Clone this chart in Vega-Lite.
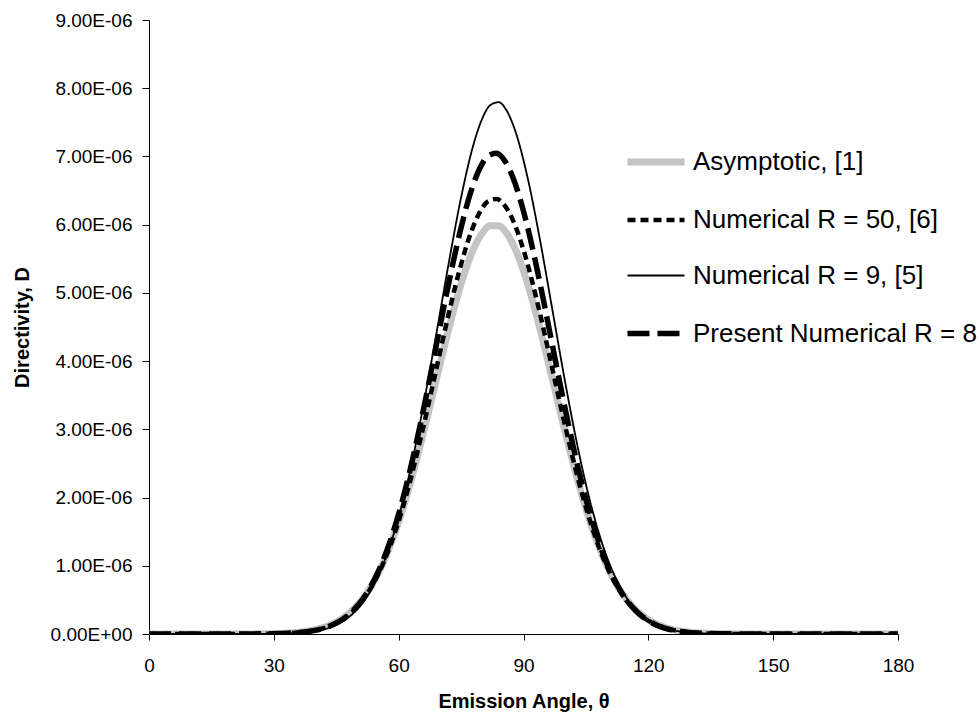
{
  "$schema": "https://vega.github.io/schema/vega-lite/v6.json",
  "autosize": {"type": "none"},
  "width": 749,
  "height": 614,
  "padding": {"left": 149, "top": 20, "right": 80, "bottom": 86},
  "background": "white",
  "config": {"font": "Liberation Sans", "view": {"stroke": null}},
  "data": {"values": [
    {"t": 0, "D": 0, "s": "Asymptotic, [1]"},
    {"t": 20, "D": 0, "s": "Asymptotic, [1]"},
    {"t": 30, "D": 6e-9, "s": "Asymptotic, [1]"},
    {"t": 35, "D": 2.1e-8, "s": "Asymptotic, [1]"},
    {"t": 40, "D": 6.5e-8, "s": "Asymptotic, [1]"},
    {"t": 44, "D": 1.46e-7, "s": "Asymptotic, [1]"},
    {"t": 48, "D": 3.0e-7, "s": "Asymptotic, [1]"},
    {"t": 52, "D": 5.72e-7, "s": "Asymptotic, [1]"},
    {"t": 56, "D": 1.009e-6, "s": "Asymptotic, [1]"},
    {"t": 60, "D": 1.646e-6, "s": "Asymptotic, [1]"},
    {"t": 63, "D": 2.257e-6, "s": "Asymptotic, [1]"},
    {"t": 66, "D": 2.96e-6, "s": "Asymptotic, [1]"},
    {"t": 69, "D": 3.716e-6, "s": "Asymptotic, [1]"},
    {"t": 72, "D": 4.463e-6, "s": "Asymptotic, [1]"},
    {"t": 75, "D": 5.131e-6, "s": "Asymptotic, [1]"},
    {"t": 78, "D": 5.644e-6, "s": "Asymptotic, [1]"},
    {"t": 80, "D": 5.869e-6, "s": "Asymptotic, [1]"},
    {"t": 82, "D": 5.985e-6, "s": "Asymptotic, [1]"},
    {"t": 84, "D": 5.985e-6, "s": "Asymptotic, [1]"},
    {"t": 86, "D": 5.869e-6, "s": "Asymptotic, [1]"},
    {"t": 88, "D": 5.644e-6, "s": "Asymptotic, [1]"},
    {"t": 91, "D": 5.131e-6, "s": "Asymptotic, [1]"},
    {"t": 94, "D": 4.463e-6, "s": "Asymptotic, [1]"},
    {"t": 97, "D": 3.716e-6, "s": "Asymptotic, [1]"},
    {"t": 100, "D": 2.96e-6, "s": "Asymptotic, [1]"},
    {"t": 103, "D": 2.257e-6, "s": "Asymptotic, [1]"},
    {"t": 106, "D": 1.646e-6, "s": "Asymptotic, [1]"},
    {"t": 110, "D": 1.009e-6, "s": "Asymptotic, [1]"},
    {"t": 114, "D": 5.72e-7, "s": "Asymptotic, [1]"},
    {"t": 118, "D": 3.0e-7, "s": "Asymptotic, [1]"},
    {"t": 122, "D": 1.46e-7, "s": "Asymptotic, [1]"},
    {"t": 126, "D": 6.5e-8, "s": "Asymptotic, [1]"},
    {"t": 130, "D": 2.7e-8, "s": "Asymptotic, [1]"},
    {"t": 135, "D": 8e-9, "s": "Asymptotic, [1]"},
    {"t": 140, "D": 2e-9, "s": "Asymptotic, [1]"},
    {"t": 150, "D": 0, "s": "Asymptotic, [1]"},
    {"t": 180, "D": 0, "s": "Asymptotic, [1]"},

    {"t": 0, "D": 0, "s": "Numerical R = 50, [6]"},
    {"t": 20, "D": 0, "s": "Numerical R = 50, [6]"},
    {"t": 29.5, "D": 4e-9, "s": "Numerical R = 50, [6]"},
    {"t": 34.5, "D": 1.6e-8, "s": "Numerical R = 50, [6]"},
    {"t": 39.5, "D": 5.1e-8, "s": "Numerical R = 50, [6]"},
    {"t": 43.5, "D": 1.19e-7, "s": "Numerical R = 50, [6]"},
    {"t": 47.5, "D": 2.56e-7, "s": "Numerical R = 50, [6]"},
    {"t": 51.5, "D": 5.08e-7, "s": "Numerical R = 50, [6]"},
    {"t": 55.5, "D": 9.27e-7, "s": "Numerical R = 50, [6]"},
    {"t": 59.5, "D": 1.561e-6, "s": "Numerical R = 50, [6]"},
    {"t": 62.5, "D": 2.185e-6, "s": "Numerical R = 50, [6]"},
    {"t": 65.5, "D": 2.923e-6, "s": "Numerical R = 50, [6]"},
    {"t": 68.5, "D": 3.734e-6, "s": "Numerical R = 50, [6]"},
    {"t": 71.5, "D": 4.556e-6, "s": "Numerical R = 50, [6]"},
    {"t": 74.5, "D": 5.306e-6, "s": "Numerical R = 50, [6]"},
    {"t": 77.5, "D": 5.906e-6, "s": "Numerical R = 50, [6]"},
    {"t": 79.5, "D": 6.184e-6, "s": "Numerical R = 50, [6]"},
    {"t": 81.5, "D": 6.343e-6, "s": "Numerical R = 50, [6]"},
    {"t": 83.5, "D": 6.376e-6, "s": "Numerical R = 50, [6]"},
    {"t": 85.5, "D": 6.279e-6, "s": "Numerical R = 50, [6]"},
    {"t": 87.5, "D": 6.059e-6, "s": "Numerical R = 50, [6]"},
    {"t": 90.5, "D": 5.527e-6, "s": "Numerical R = 50, [6]"},
    {"t": 93.5, "D": 4.816e-6, "s": "Numerical R = 50, [6]"},
    {"t": 96.5, "D": 4.008e-6, "s": "Numerical R = 50, [6]"},
    {"t": 99.5, "D": 3.186e-6, "s": "Numerical R = 50, [6]"},
    {"t": 102.5, "D": 2.419e-6, "s": "Numerical R = 50, [6]"},
    {"t": 105.5, "D": 1.754e-6, "s": "Numerical R = 50, [6]"},
    {"t": 109.5, "D": 1.064e-6, "s": "Numerical R = 50, [6]"},
    {"t": 113.5, "D": 5.95e-7, "s": "Numerical R = 50, [6]"},
    {"t": 117.5, "D": 3.06e-7, "s": "Numerical R = 50, [6]"},
    {"t": 121.5, "D": 1.45e-7, "s": "Numerical R = 50, [6]"},
    {"t": 125.5, "D": 6.4e-8, "s": "Numerical R = 50, [6]"},
    {"t": 129.5, "D": 2.6e-8, "s": "Numerical R = 50, [6]"},
    {"t": 134.5, "D": 7e-9, "s": "Numerical R = 50, [6]"},
    {"t": 139.5, "D": 2e-9, "s": "Numerical R = 50, [6]"},
    {"t": 150, "D": 0, "s": "Numerical R = 50, [6]"},
    {"t": 180, "D": 0, "s": "Numerical R = 50, [6]"},

    {"t": 0, "D": 0, "s": "Present Numerical R = 8"},
    {"t": 20, "D": 0, "s": "Present Numerical R = 8"},
    {"t": 29.5, "D": 4e-9, "s": "Present Numerical R = 8"},
    {"t": 34.5, "D": 1.5e-8, "s": "Present Numerical R = 8"},
    {"t": 39.5, "D": 4.9e-8, "s": "Present Numerical R = 8"},
    {"t": 43.5, "D": 1.17e-7, "s": "Present Numerical R = 8"},
    {"t": 47.5, "D": 2.58e-7, "s": "Present Numerical R = 8"},
    {"t": 51.5, "D": 5.22e-7, "s": "Present Numerical R = 8"},
    {"t": 55.5, "D": 9.69e-7, "s": "Present Numerical R = 8"},
    {"t": 59.5, "D": 1.655e-6, "s": "Present Numerical R = 8"},
    {"t": 62.5, "D": 2.341e-6, "s": "Present Numerical R = 8"},
    {"t": 65.5, "D": 3.157e-6, "s": "Present Numerical R = 8"},
    {"t": 68.5, "D": 4.062e-6, "s": "Present Numerical R = 8"},
    {"t": 71.5, "D": 4.985e-6, "s": "Present Numerical R = 8"},
    {"t": 74.5, "D": 5.832e-6, "s": "Present Numerical R = 8"},
    {"t": 77.5, "D": 6.512e-6, "s": "Present Numerical R = 8"},
    {"t": 79.5, "D": 6.827e-6, "s": "Present Numerical R = 8"},
    {"t": 81.5, "D": 7.008e-6, "s": "Present Numerical R = 8"},
    {"t": 83.5, "D": 7.045e-6, "s": "Present Numerical R = 8"},
    {"t": 85.5, "D": 6.935e-6, "s": "Present Numerical R = 8"},
    {"t": 87.5, "D": 6.685e-6, "s": "Present Numerical R = 8"},
    {"t": 90.5, "D": 6.082e-6, "s": "Present Numerical R = 8"},
    {"t": 93.5, "D": 5.278e-6, "s": "Present Numerical R = 8"},
    {"t": 96.5, "D": 4.369e-6, "s": "Present Numerical R = 8"},
    {"t": 99.5, "D": 3.45e-6, "s": "Present Numerical R = 8"},
    {"t": 102.5, "D": 2.598e-6, "s": "Present Numerical R = 8"},
    {"t": 105.5, "D": 1.866e-6, "s": "Present Numerical R = 8"},
    {"t": 109.5, "D": 1.115e-6, "s": "Present Numerical R = 8"},
    {"t": 113.5, "D": 6.13e-7, "s": "Present Numerical R = 8"},
    {"t": 117.5, "D": 3.1e-7, "s": "Present Numerical R = 8"},
    {"t": 121.5, "D": 1.44e-7, "s": "Present Numerical R = 8"},
    {"t": 125.5, "D": 6.1e-8, "s": "Present Numerical R = 8"},
    {"t": 129.5, "D": 2.4e-8, "s": "Present Numerical R = 8"},
    {"t": 134.5, "D": 7e-9, "s": "Present Numerical R = 8"},
    {"t": 139.5, "D": 2e-9, "s": "Present Numerical R = 8"},
    {"t": 150, "D": 0, "s": "Present Numerical R = 8"},
    {"t": 180, "D": 0, "s": "Present Numerical R = 8"},

    {"t": 0, "D": 0, "s": "Numerical R = 9, [5]"},
    {"t": 20, "D": 0, "s": "Numerical R = 9, [5]"},
    {"t": 30, "D": 3e-9, "s": "Numerical R = 9, [5]"},
    {"t": 35, "D": 1.2e-8, "s": "Numerical R = 9, [5]"},
    {"t": 40, "D": 4.3e-8, "s": "Numerical R = 9, [5]"},
    {"t": 44, "D": 1.08e-7, "s": "Numerical R = 9, [5]"},
    {"t": 48, "D": 2.46e-7, "s": "Numerical R = 9, [5]"},
    {"t": 52, "D": 5.12e-7, "s": "Numerical R = 9, [5]"},
    {"t": 56, "D": 9.8e-7, "s": "Numerical R = 9, [5]"},
    {"t": 60, "D": 1.714e-6, "s": "Numerical R = 9, [5]"},
    {"t": 63, "D": 2.462e-6, "s": "Numerical R = 9, [5]"},
    {"t": 66, "D": 3.367e-6, "s": "Numerical R = 9, [5]"},
    {"t": 69, "D": 4.381e-6, "s": "Numerical R = 9, [5]"},
    {"t": 72, "D": 5.426e-6, "s": "Numerical R = 9, [5]"},
    {"t": 75, "D": 6.398e-6, "s": "Numerical R = 9, [5]"},
    {"t": 78, "D": 7.179e-6, "s": "Numerical R = 9, [5]"},
    {"t": 80, "D": 7.542e-6, "s": "Numerical R = 9, [5]"},
    {"t": 82, "D": 7.752e-6, "s": "Numerical R = 9, [5]"},
    {"t": 84, "D": 7.795e-6, "s": "Numerical R = 9, [5]"},
    {"t": 86, "D": 7.667e-6, "s": "Numerical R = 9, [5]"},
    {"t": 88, "D": 7.378e-6, "s": "Numerical R = 9, [5]"},
    {"t": 91, "D": 6.685e-6, "s": "Numerical R = 9, [5]"},
    {"t": 94, "D": 5.764e-6, "s": "Numerical R = 9, [5]"},
    {"t": 97, "D": 4.731e-6, "s": "Numerical R = 9, [5]"},
    {"t": 100, "D": 3.696e-6, "s": "Numerical R = 9, [5]"},
    {"t": 103, "D": 2.748e-6, "s": "Numerical R = 9, [5]"},
    {"t": 106, "D": 1.945e-6, "s": "Numerical R = 9, [5]"},
    {"t": 110, "D": 1.136e-6, "s": "Numerical R = 9, [5]"},
    {"t": 114, "D": 6.08e-7, "s": "Numerical R = 9, [5]"},
    {"t": 118, "D": 2.98e-7, "s": "Numerical R = 9, [5]"},
    {"t": 122, "D": 1.34e-7, "s": "Numerical R = 9, [5]"},
    {"t": 126, "D": 5.5e-8, "s": "Numerical R = 9, [5]"},
    {"t": 130, "D": 2.1e-8, "s": "Numerical R = 9, [5]"},
    {"t": 135, "D": 5e-9, "s": "Numerical R = 9, [5]"},
    {"t": 140, "D": 1e-9, "s": "Numerical R = 9, [5]"},
    {"t": 150, "D": 0, "s": "Numerical R = 9, [5]"},
    {"t": 180, "D": 0, "s": "Numerical R = 9, [5]"}
  ]},
  "mark": {"type": "line", "interpolate": "monotone", "clip": true},
  "encoding": {
    "x": {
      "field": "t", "type": "quantitative",
      "scale": {"domain": [0, 180], "nice": false, "zero": false},
      "axis": {
        "title": "Emission Angle, θ",
        "values": [0, 30, 60, 90, 120, 150, 180],
        "grid": false, "tickSize": 6, "tickColor": "black", "domainColor": "black",
        "labelFontSize": 19, "labelColor": "black", "labelPadding": 16, "labelFlush": false,
        "titleFontSize": 20, "titleFontWeight": "bold", "titleColor": "black", "titlePadding": 16
      }
    },
    "y": {
      "field": "D", "type": "quantitative",
      "scale": {"domain": [0, 9e-6], "nice": false},
      "axis": {
        "title": "Directivity, D",
        "values": [0, 1e-6, 2e-6, 3e-6, 4e-6, 5e-6, 6e-6, 7e-6, 8e-6, 9e-6],
        "labelExpr": "datum.value == 0 ? '0.00E+00' : format(datum.value * 1e6, '.2f') + 'E-06'",
        "grid": false, "tickSize": 7, "tickColor": "black", "domainColor": "black",
        "labelFontSize": 19, "labelColor": "black", "labelPadding": 10, "labelFlush": false,
        "titleFontSize": 20, "titleFontWeight": "bold", "titleColor": "black", "titlePadding": 18
      }
    },
    "color": {
      "field": "s", "type": "nominal",
      "scale": {
        "domain": ["Asymptotic, [1]", "Numerical R = 50, [6]", "Numerical R = 9, [5]", "Present Numerical R = 8"],
        "range": ["#c4c4c4", "black", "black", "black"]
      },
      "legend": {
        "orient": "none", "legendX": 475, "legendY": 110, "title": null,
        "symbolType": "stroke", "symbolSize": 3249, "labelFontSize": 26, "labelColor": "black",
        "labelOffset": 5, "rowPadding": 13, "labelLimit": 400
      }
    },
    "strokeDash": {
      "field": "s", "type": "nominal",
      "scale": {
        "type": "ordinal",
        "domain": ["Asymptotic, [1]", "Numerical R = 50, [6]", "Numerical R = 9, [5]", "Present Numerical R = 8"],
        "range": [[1, 0], [8, 5], [1, 0], [22, 8]]
      }
    },
    "strokeWidth": {
      "field": "s", "type": "nominal",
      "scale": {
        "type": "ordinal",
        "domain": ["Asymptotic, [1]", "Numerical R = 50, [6]", "Numerical R = 9, [5]", "Present Numerical R = 8"],
        "range": [7, 4.5, 1.8, 5.5]
      }
    },
    "order": {"field": "t"}
  }
}
